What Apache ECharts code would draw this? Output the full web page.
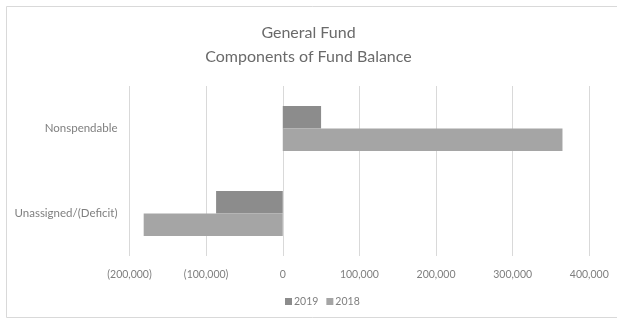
<!DOCTYPE html>
<html>
<head>
<meta charset="utf-8">
<script src="https://cdn.jsdelivr.net/npm/echarts@6/dist/echarts.min.js"></script>
<style>
  html, body { margin: 0; padding: 0; background: #ffffff; }
  #chart { width: 617px; height: 320px; }
</style>
</head>
<body>
<div id="chart"></div>
<script>
// Fund balance components, listed bottom-to-top on the category axis
const categories = ['Unassigned/(Deficit)', 'Nonspendable'];
const seriesNames = ['2019', '2018'];
const values2019 = [-87000, 50000];
const values2018 = [-181500, 365000];
const axisMin = -200000;
const axisMax = 400000;
const axisStep = 100000;

const fontFamily = 'Lato, "Open Sans", sans-serif';

function formatAccounting(v) {
  if (v === 0) return '0';
  const s = Math.abs(v).toLocaleString('en-US');
  return v < 0 ? '(' + s + ')' : s;
}

const chart = echarts.init(document.getElementById('chart'), null, { renderer: 'canvas' });

chart.setOption({
  backgroundColor: '#ffffff',
  animation: false,
  title: {
    text: 'General Fund\nComponents of Fund Balance',
    left: 'center',
    top: 16,
    textStyle: {
      fontFamily: fontFamily,
      fontSize: 16,
      fontWeight: 'normal',
      color: '#6a6a6a',
      lineHeight: 24
    }
  },
  graphic: [{
    type: 'rect',
    shape: { x: 6.5, y: 6.5, width: 620, height: 311 },
    style: { fill: 'none', stroke: '#d9d9d9', lineWidth: 1 },
    silent: true
  }],
  legend: {
    data: seriesNames,
    bottom: 8,
    left: 280,
    itemWidth: 7,
    itemHeight: 7,
    itemGap: 8,
    icon: 'rect',
    textStyle: { fontFamily: fontFamily, fontSize: 10.5, color: '#7f7f7f', padding: [0, 0, 0, -3] }
  },
  grid: {
    left: 129.5,
    right: 27.7,
    top: 86,
    bottom: 64,
    containLabel: false
  },
  xAxis: {
    type: 'value',
    min: axisMin,
    max: axisMax,
    interval: axisStep,
    axisLine: { show: false },
    axisTick: { show: false },
    splitLine: { show: true, lineStyle: { color: '#d9d9d9', width: 1 } },
    axisLabel: {
      formatter: formatAccounting,
      fontFamily: fontFamily,
      fontSize: 10.5,
      color: '#7f7f7f',
      margin: 13
    }
  },
  yAxis: {
    type: 'category',
    data: categories,
    axisLine: { show: false },
    axisTick: { show: false },
    axisLabel: {
      fontFamily: fontFamily,
      fontSize: 11.5,
      color: '#7f7f7f',
      margin: 12
    }
  },
  series: [
    {
      name: seriesNames[0],
      type: 'bar',
      data: values2019,
      itemStyle: { color: '#8c8c8c' },
      barGap: '0%',
      barCategoryGap: '47%'
    },
    {
      name: seriesNames[1],
      type: 'bar',
      data: values2018,
      itemStyle: { color: '#a5a5a5' },
      barGap: '0%',
      barCategoryGap: '47%'
    }
  ]
});
</script>
</body>
</html>
